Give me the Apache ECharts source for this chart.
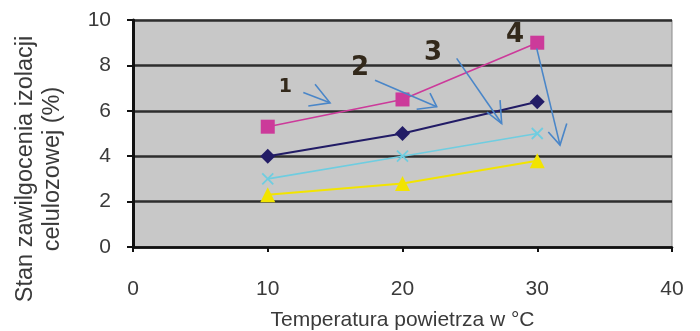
<!DOCTYPE html>
<html>
<head>
<meta charset="utf-8">
<script src="https://cdn.jsdelivr.net/npm/echarts@6/dist/echarts.min.js"></script>
<style>
  html, body { margin: 0; padding: 0; background: #ffffff; }
  #chart { width: 700px; height: 331px; }
</style>
</head>
<body>
<div id="chart"></div>
<script>
// Temperatures (°C) at which moisture was measured
const temperatures = [10, 20, 30];

// Moisture content of cellulose insulation (%) for samples 1-4
const sample1 = [5.3, 6.5, 9.0];
const sample2 = [4.0, 5.0, 6.4];
const sample3 = [3.0, 4.0, 5.0];
const sample4 = [2.3, 2.8, 3.8];

// Axis ticks
const xTicks = [0, 10, 20, 30, 40];
const yTicks = [0, 2, 4, 6, 8, 10];

// Callout numbers and their arrows, in axis units (x: °C, y: %)
const calloutLabels = [
  { text: '1', at: [11.3, 7.06], size: 19 },
  { text: '2', at: [16.85, 7.87], size: 26 },
  { text: '3', at: [22.26, 8.54], size: 26 },
  { text: '4', at: [28.35, 9.34], size: 26 }
];
const calloutArrows = [
  { tail: [12.64, 6.81], head: [14.62, 6.35], armA: [13.51, 7.17], armB: [13.01, 6.21] },
  { tail: [17.96, 7.35], head: [22.54, 6.18], armA: [22.04, 6.78], armB: [21.05, 6.07] },
  { tail: [24.02, 8.31], head: [27.36, 5.44], armA: [27.24, 6.47], armB: [26.27, 5.94] },
  { tail: [29.96, 8.75], head: [31.69, 4.49], armA: [32.19, 5.44], armB: [30.82, 5.07] }
];

const pairs = (vals) => temperatures.map((t, i) => [t, vals[i]]);
const font = 'Liberation Sans, Arial, sans-serif';
const textColor = '#3a3a3a';

const chart = echarts.init(document.getElementById('chart'), null, { renderer: 'canvas' });

const crossSymbol = 'path://M0,0L10,10M10,0L0,10';

function lineSeries(name, data, color, symbol, size, width) {
  return {
    name: name,
    type: 'line',
    data: pairs(data),
    symbol: symbol,
    symbolSize: size,
    showSymbol: true,
    lineStyle: { color: color, width: width },
    itemStyle: { color: color, borderColor: color, borderWidth: symbol === crossSymbol ? 1.8 : 0 },
    emphasis: { disabled: true },
    animation: false
  };
}

chart.setOption({
  animation: false,
  grid: {
    left: 133, right: 28, top: 20, bottom: 84,
    containLabel: false,
    outerBoundsMode: 'none',
    show: true,
    backgroundColor: '#c8c8c8',
    borderColor: '#8a8a8a',
    borderWidth: 1
  },
  xAxis: {
    type: 'value',
    min: xTicks[0],
    max: xTicks[xTicks.length - 1],
    interval: 10,
    name: 'Temperatura powietrza w °C',
    nameLocation: 'middle',
    nameGap: 63,
    nameTextStyle: { fontFamily: font, fontSize: 21, color: textColor },
    axisLine: { show: true, onZero: false, lineStyle: { color: '#111', width: 2.5 } },
    axisTick: { show: true, length: 5, lineStyle: { color: '#111', width: 2 } },
    axisLabel: { margin: 32, fontFamily: font, fontSize: 21, color: textColor },
    splitLine: { show: false }
  },
  yAxis: {
    type: 'value',
    min: yTicks[0],
    max: yTicks[yTicks.length - 1],
    interval: 2,
    axisLine: { show: true, onZero: false, lineStyle: { color: '#111', width: 3 } },
    axisTick: { show: true, length: 6, lineStyle: { color: '#111', width: 2 } },
    axisLabel: { margin: 22, fontFamily: font, fontSize: 21, color: textColor },
    splitLine: { show: true, lineStyle: { color: '#2e2e2e', width: 2.5 } }
  },
  series: [
    lineSeries('4', sample4, '#f2e400', 'triangle', 15, 2),
    lineSeries('3', sample3, '#6fcde0', crossSymbol, 11, 1.6),
    lineSeries('2', sample2, '#221c66', 'diamond', 15, 2),
    lineSeries('1', sample1, '#cc3a9a', 'rect', 14, 1.6)
  ]
});

// Y-axis title, callout arrows and numbers
function drawOverlay() {
  const graphics = [];
  graphics.push({
    type: 'text',
    x: 39.5, y: 169,
    rotation: Math.PI / 2,
    style: {
      text: 'Stan zawilgocenia izolacji\ncelulozowej (%)',
      fontFamily: font,
      fontSize: 23.5,
      lineHeight: 27,
      fill: textColor,
      align: 'center',
      verticalAlign: 'middle'
    },
    z: 10
  });

  const px = (p) => chart.convertToPixel({ gridIndex: 0 }, p);

  calloutArrows.forEach((a) => {
    const tail = px(a.tail), head = px(a.head), armA = px(a.armA), armB = px(a.armB);
    graphics.push({
      type: 'polyline',
      shape: { points: [tail, head] },
      style: { stroke: '#4a86c8', lineWidth: 1.6, fill: null },
      z: 20
    });
    graphics.push({
      type: 'polyline',
      shape: { points: [armA, head, armB] },
      style: { stroke: '#4a86c8', lineWidth: 1.6, fill: null },
      z: 20
    });
  });

  calloutLabels.forEach((l) => {
    const p = px(l.at);
    graphics.push({
      type: 'text',
      x: p[0], y: p[1],
      style: {
        text: l.text,
        fontFamily: 'DejaVu Sans, sans-serif',
        fontWeight: 'bold',
        fontSize: l.size,
        fill: '#33291b',
        align: 'center',
        verticalAlign: 'middle'
      },
      z: 20
    });
  });

  chart.setOption({ graphic: graphics });
}

drawOverlay();
</script>
</body>
</html>
